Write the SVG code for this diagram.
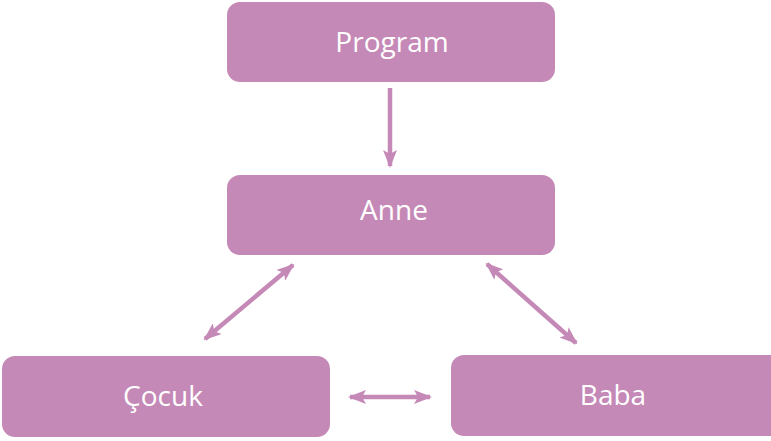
<svg xmlns="http://www.w3.org/2000/svg" width="771" height="441" viewBox="0 0 771 441">
<style>
.box{fill:#C589B7;}
.lbl{fill:#ffffff;font-family:"Open Sans","Liberation Sans",sans-serif;font-size:28px;text-anchor:middle;dominant-baseline:central;}
.con{stroke:#C589B7;stroke-width:4.5;fill:none;}
</style>
<defs>
<marker id="ah" viewBox="0 0 18 14" refX="16" refY="7" markerWidth="18" markerHeight="14" markerUnits="userSpaceOnUse" orient="auto-start-reverse">
<path d="M0,0 L18,7 L0,14 L4,7 Z" fill="#C589B7"/>
</marker>
</defs>
<g id="connectors">
<line class="con" x1="390" y1="88" x2="390" y2="166" marker-end="url(#ah)"/>
<line class="con" x1="293" y1="265" x2="205" y2="339" marker-start="url(#ah)" marker-end="url(#ah)"/>
<line class="con" x1="487" y1="264" x2="576" y2="343" marker-start="url(#ah)" marker-end="url(#ah)"/>
<line class="con" x1="350" y1="397" x2="430" y2="397" marker-start="url(#ah)" marker-end="url(#ah)"/>
</g>
<g id="program">
<rect class="box" x="227" y="2" width="328" height="80" rx="13"/>
<text class="lbl" x="392" y="41">Program</text>
</g>
<g id="anne">
<rect class="box" x="227" y="175" width="328" height="80" rx="13"/>
<text class="lbl" x="394" y="209">Anne</text>
</g>
<g id="cocuk">
<rect class="box" x="2" y="356" width="328" height="81" rx="13"/>
<text class="lbl" x="163" y="395">Çocuk</text>
</g>
<g id="baba">
<rect class="box" x="451" y="355" width="335" height="81" rx="13"/>
<text class="lbl" x="613" y="394">Baba</text>
</g>
</svg>
